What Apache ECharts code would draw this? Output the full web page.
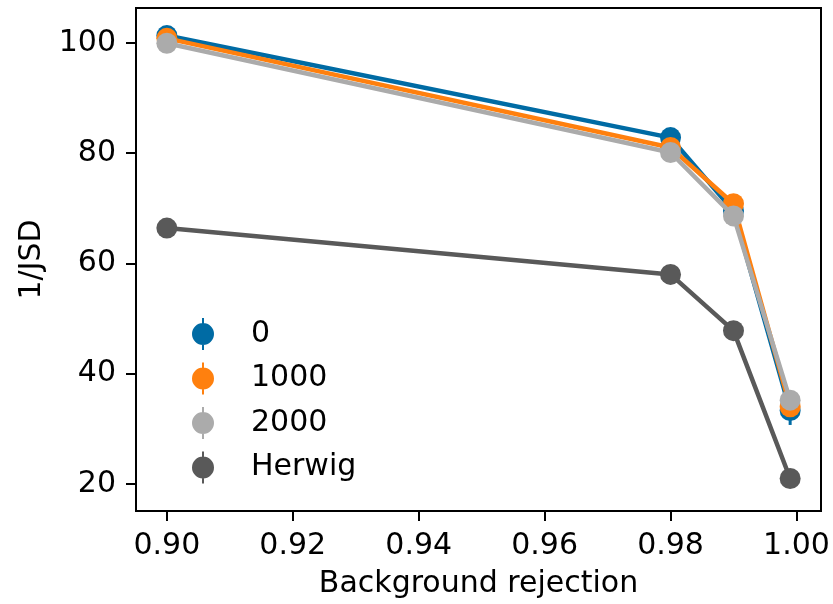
<!DOCTYPE html>
<html>
<head>
<meta charset="utf-8">
<script src="https://cdn.jsdelivr.net/npm/echarts@6/dist/echarts.min.js"></script>
<style>html,body{margin:0;padding:0;background:#fff}#c{width:833px;height:604px}</style>
</head>
<body>
<div id="c"></div>
<script>
const xValues = [0.90, 0.98, 0.99, 0.999];
const seriesNames = ['0', '1000', '2000', 'Herwig'];
const vals0 = [101.3, 82.8, 69.5, 33.3];
const vals1000 = [100.8, 81.0, 70.8, 34.0];
const vals2000 = [99.9, 80.1, 68.6, 35.2];
const valsHerwig = [66.4, 58.0, 47.8, 21.0];
const err0 = [0.5, 0.5, 0.6, 2.6];
const err1000 = [0.5, 0.5, 0.6, 1.5];
const err2000 = [0.5, 0.5, 0.6, 1.0];
const errHerwig = [0.3, 0.3, 0.4, 0.5];
const xTicks = [0.90, 0.92, 0.94, 0.96, 0.98, 1.00];
const yTicks = [20, 40, 60, 80, 100];
const colors = ['#006BA4', '#FF800E', '#ABABAB', '#595959'];

const allVals = [vals0, vals1000, vals2000, valsHerwig];
const allErr = [err0, err1000, err2000, errHerwig];
const icon = 'path://M10,0H12V32H10Z M0,16A11,11,0,1,1,22,16A11,11,0,1,1,0,16Z';
const font = 'DejaVu Sans';

const series = [];
seriesNames.forEach((name, i) => {
  series.push({
    name: name,
    type: 'line',
    data: xValues.map((x, j) => [x, allVals[i][j]]),
    symbol: 'circle',
    symbolSize: 21,
    lineStyle: { color: colors[i], width: 4.5 },
    itemStyle: { color: colors[i] },
    z: 2 + i * 2,
    animation: false
  });
  series.push({
    name: name,
    type: 'custom',
    data: xValues.map((x, j) => [x, allVals[i][j] - allErr[i][j], allVals[i][j] + allErr[i][j]]),
    renderItem: function (params, api) {
      const p1 = api.coord([api.value(0), api.value(1)]);
      const p2 = api.coord([api.value(0), api.value(2)]);
      return { type: 'line', shape: { x1: p1[0], y1: p1[1], x2: p2[0], y2: p2[1] },
        style: { stroke: colors[i], lineWidth: 3 } };
    },
    z: 1 + i * 2,
    silent: true,
    animation: false
  });
});

const chart = echarts.init(document.getElementById('c'), null, { renderer: 'canvas' });
chart.setOption({
  animation: false,
  backgroundColor: '#fff',
  color: colors,
  grid: { left: 136, top: 8, right: 12, bottom: 92, show: true, borderColor: '#000', borderWidth: 2, backgroundColor: 'transparent' },
  legend: {
    data: seriesNames.map((n, i) => ({ name: n, icon: icon, itemStyle: { color: colors[i] } })),
    orient: 'vertical',
    left: 187,
    top: 313,
    itemWidth: 22,
    itemHeight: 32,
    itemGap: 12.5,
    textStyle: { fontFamily: font, fontSize: 30, color: '#000', padding: [0, 0, 0, 32], lineHeight: 32 }
  },
  xAxis: {
    type: 'value',
    min: 0.8951,
    max: 1.0039,
    name: 'Background rejection',
    nameLocation: 'middle',
    nameGap: 58,
    nameTextStyle: { fontFamily: font, fontSize: 30, color: '#000' },
    splitLine: { show: false },
    axisLine: { show: true, lineStyle: { color: '#000', width: 2 } },
    axisTick: { show: true, length: 10, lineStyle: { color: '#000', width: 2 }, customValues: xTicks },
    axisLabel: { fontFamily: font, fontSize: 30, color: '#000', margin: 20, customValues: xTicks,
      formatter: v => v.toFixed(2) }
  },
  yAxis: {
    type: 'value',
    min: 15.1,
    max: 106.3,
    name: '1/JSD',
    nameLocation: 'middle',
    nameGap: 89,
    nameTextStyle: { fontFamily: font, fontSize: 30, color: '#000' },
    splitLine: { show: false },
    axisLine: { show: true, lineStyle: { color: '#000', width: 2 } },
    axisTick: { show: true, length: 10, lineStyle: { color: '#000', width: 2 }, customValues: yTicks },
    axisLabel: { fontFamily: font, fontSize: 30, color: '#000', margin: 20, customValues: yTicks }
  },
  series: series
});
</script>
</body>
</html>
